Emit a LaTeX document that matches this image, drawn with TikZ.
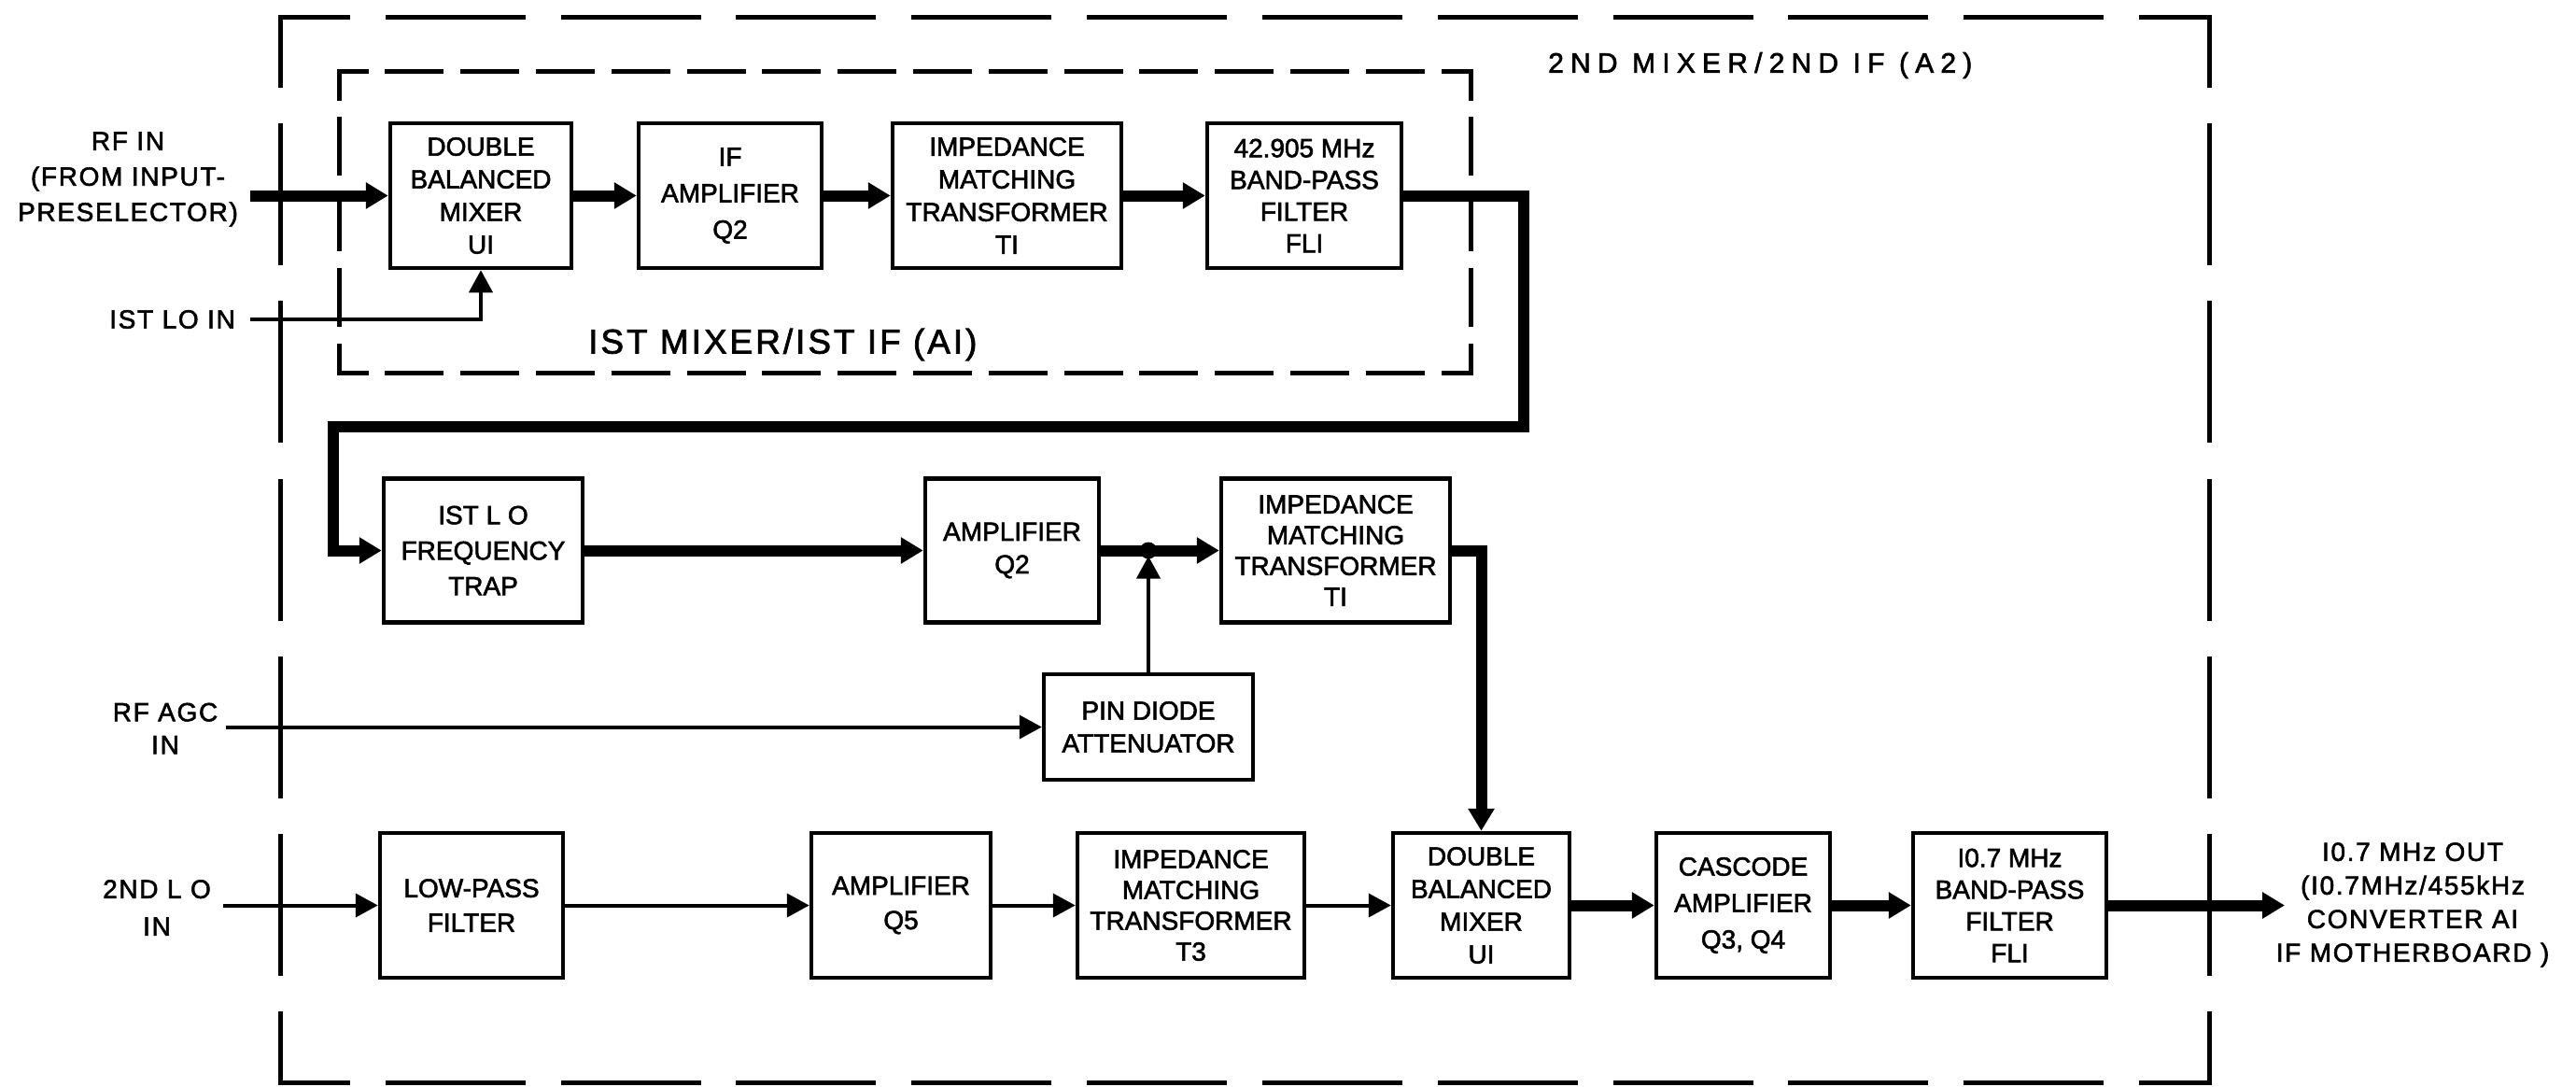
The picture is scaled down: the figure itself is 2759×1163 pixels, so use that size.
\documentclass[tikz,border=0pt]{standalone}
\usepackage{fontspec}
\setmainfont{Liberation Sans}[FakeBold=2]
\usetikzlibrary{arrows.meta}
\begin{document}
\begin{tikzpicture}[x=1pt,y=-1pt,
  box/.style={draw,line width=4.5pt,align=center,inner sep=0pt,font=\fontsize{28}{35}\selectfont},
  lbl/.style={align=center,inner sep=0pt,font=\fontsize{28}{38}\selectfont\addfontfeature{LetterSpace=6}},
  wire/.style={line width=4pt,-{Triangle[length=24pt,width=25pt]}},
  bus/.style={line width=12pt,-{Triangle[length=24pt,width=27pt]}},
  frameline/.style={line width=5pt,line cap=rect},
  hout/.style={frameline,dash pattern=on 145pt off 42.82pt,dash phase=72.5pt},
  vout/.style={frameline,dash pattern=on 147pt off 43.17pt,dash phase=73.5pt},
  hin/.style={frameline,dash pattern=on 58pt off 22.8pt,dash phase=29pt},
  vin/.style={frameline,dash pattern=on 58pt off 22.75pt,dash phase=29pt},
]
\useasboundingbox (0,0) rectangle (2759,1163);

% frames
\coordinate (o1) at (300,18);
\coordinate (o2) at (2366,18);
\coordinate (o3) at (2366,1159);
\coordinate (o4) at (300,1159);
\draw[hout] (o1) -- (o2);
\draw[hout] (o4) -- (o3);
\draw[vout] (o1) -- (o4);
\draw[vout] (o2) -- (o3);
\coordinate (i1) at (363,76);
\coordinate (i2) at (1575,76);
\coordinate (i3) at (1575,399);
\coordinate (i4) at (363,399);
\draw[hin] (i1) -- (i2);
\draw[hin] (i4) -- (i3);
\draw[vin] (i1) -- (i4);
\draw[vin] (i2) -- (i3);

% titles
\node[anchor=west,inner sep=0pt,font=\fontsize{30}{30}\selectfont\addfontfeature{LetterSpace=24}] (t2) at (1658,70) {2ND MIXER/2ND IF (A2)};
\node[anchor=west,inner sep=0pt,font=\fontsize{37}{37}\selectfont\addfontfeature{LetterSpace=8}] (t1) at (630,369) {IST MIXER/IST IF (AI)};

% row 1
\node[box,minimum width=194pt,minimum height=155pt] (mix1) at (515,209.5) {DOUBLE\\BALANCED\\MIXER\\UI};
\node[box,minimum width=196pt,minimum height=155pt,font=\fontsize{28}{39}\selectfont] (ifamp) at (782,209.5) {IF\\AMPLIFIER\\Q2};
\node[box,minimum width=245pt,minimum height=155pt] (imp1) at (1078.5,209.5) {IMPEDANCE\\MATCHING\\TRANSFORMER\\TI};
\node[box,minimum width=208pt,minimum height=155pt,font=\fontsize{28}{34}\selectfont] (bpf1) at (1397,209.5) {42.905 MHz\\BAND-PASS\\FILTER\\FLI};

% row 2
\node[box,minimum width=213pt,minimum height=154pt,font=\fontsize{28}{38}\selectfont] (trap) at (517.5,589.5) {IST L O\\FREQUENCY\\TRAP};
\node[box,minimum width=186pt,minimum height=154pt] (amp2) at (1084,589.5) {AMPLIFIER\\Q2};
\node[box,minimum width=245pt,minimum height=154pt,font=\fontsize{28}{33}\selectfont] (imp2) at (1430.5,589.5) {IMPEDANCE\\MATCHING\\TRANSFORMER\\TI};
\node[box,minimum width=224pt,minimum height=113pt] (pin) at (1230,778.5) {PIN DIODE\\ATTENUATOR};

% row 3
\node[box,minimum width=196pt,minimum height=155pt,font=\fontsize{28}{37}\selectfont] (lpf) at (505,969.5) {LOW-PASS\\FILTER};
\node[box,minimum width=192pt,minimum height=155pt,font=\fontsize{28}{37}\selectfont] (amp5) at (965,969.5) {AMPLIFIER\\Q5};
\node[box,minimum width=243pt,minimum height=155pt,font=\fontsize{28}{33}\selectfont] (imp3) at (1275.5,969.5) {IMPEDANCE\\MATCHING\\TRANSFORMER\\T3};
\node[box,minimum width=189pt,minimum height=155pt] (mix2) at (1586.5,969.5) {DOUBLE\\BALANCED\\MIXER\\UI};
\node[box,minimum width=186pt,minimum height=155pt,font=\fontsize{28}{39}\selectfont] (casc) at (1867,969.5) {CASCODE\\AMPLIFIER\\Q3, Q4};
\node[box,minimum width=207pt,minimum height=155pt,font=\fontsize{28}{34}\selectfont] (bpf2) at (2152.5,969.5) {I0.7 MHz\\BAND-PASS\\FILTER\\FLI};

% outside labels
\node[lbl] (rfin) at (137,192) {RF IN\\(FROM INPUT-\\PRESELECTOR)};
\node[lbl,anchor=east] (lo1) at (252,342) {IST LO IN};
\node[lbl,font=\fontsize{28}{35}\selectfont\addfontfeature{LetterSpace=6}] (agc) at (177,780) {RF AGC\\IN};
\node[lbl,font=\fontsize{28}{40}\selectfont\addfontfeature{LetterSpace=6}] (lo2) at (168,972) {2ND L O\\IN};
\node[lbl,font=\fontsize{28}{36}\selectfont\addfontfeature{LetterSpace=6}] (out) at (2584,969) {I0.7 MHz OUT\\(I0.7MHz/455kHz\\CONVERTER AI\\IF MOTHERBOARD )};

% connector end points
\coordinate (rfS) at (268,209.5);
\coordinate (loS) at (268,342);
\coordinate (agcS) at (242,778.5);
\coordinate (lo2S) at (239,969.5);
\coordinate (outE) at (2447,969.5);
\coordinate (c1) at (1632,457);
\coordinate (c2) at (357,457);
\coordinate (junc) at (pin.north |- amp2.east);

% row 1 connectors
\draw[bus] (rfS) -- (mix1.west);
\draw[bus] (mix1.east) -- (ifamp.west);
\draw[bus] (ifamp.east) -- (imp1.west);
\draw[bus] (imp1.east) -- (bpf1.west);
\draw[wire] (loS) -| (mix1.south);
\draw[bus] (bpf1.east) -| (c1) -- (c2) |- (trap.west);

% row 2 connectors
\draw[bus] (trap.east) -- (amp2.west);
\draw[bus] (amp2.east) -- (imp2.west);
\fill (junc) circle (9pt);
\draw[wire,shorten >=6pt] (pin.north) -- (junc);
\draw[wire] (agcS) -- (pin.west);
\draw[bus] (imp2.east) -| (mix2.north);

% row 3 connectors
\draw[wire] (lo2S) -- (lpf.west);
\draw[wire] (lpf.east) -- (amp5.west);
\draw[wire] (amp5.east) -- (imp3.west);
\draw[wire] (imp3.east) -- (mix2.west);
\draw[bus] (mix2.east) -- (casc.west);
\draw[bus] (casc.east) -- (bpf2.west);
\draw[bus] (bpf2.east) -- (outE);
\end{tikzpicture}
\end{document}
